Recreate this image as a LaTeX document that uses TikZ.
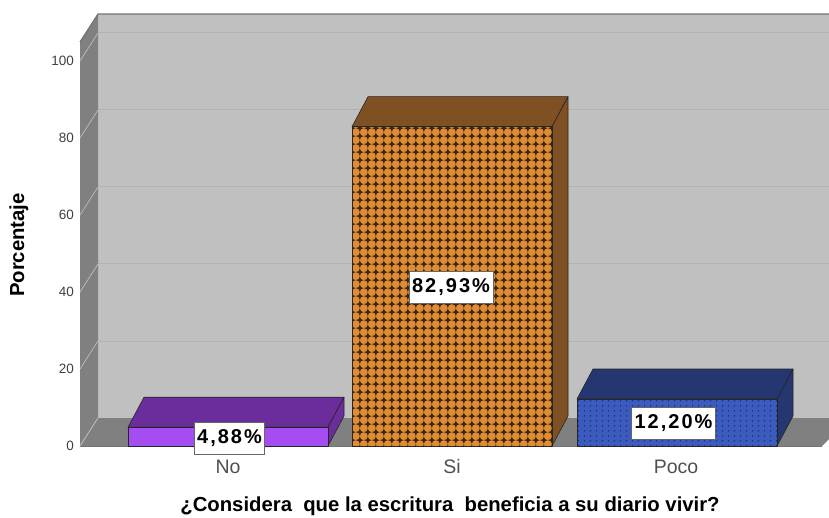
\documentclass[tikz,border=0pt]{standalone}
\usepackage{fontspec}
\setmainfont{Liberation Sans}
\newfontfamily\lblfont[LetterSpace=10]{Liberation Sans}
\usetikzlibrary{patterns}
\definecolor{wallc}{HTML}{C0C0C0}
\definecolor{sidec}{HTML}{808080}
\definecolor{gridc}{HTML}{B2B2B2}
\definecolor{sgridc}{HTML}{C4C4C4}
\definecolor{nofront}{HTML}{A64DF2}
\definecolor{nodark}{HTML}{6B2D9C}
\definecolor{sifront}{HTML}{E08C33}
\definecolor{sidark}{HTML}{7F5024}
\definecolor{sipat}{HTML}{3A2814}
\definecolor{pofront}{HTML}{3B5BBF}
\definecolor{podark}{HTML}{253670}
\definecolor{popat}{HTML}{1A2A60}
\definecolor{catc}{HTML}{505050}
\pgfdeclarepatternformonly{sparkle}{\pgfqpoint{0pt}{0pt}}{\pgfqpoint{8.3pt}{8.3pt}}{\pgfqpoint{8.3pt}{8.3pt}}{%
  \pgfpathmoveto{\pgfqpoint{4.15pt}{0pt}}%
  \pgfpathlineto{\pgfqpoint{5.3pt}{3.0pt}}%
  \pgfpathlineto{\pgfqpoint{8.3pt}{4.15pt}}%
  \pgfpathlineto{\pgfqpoint{5.3pt}{5.3pt}}%
  \pgfpathlineto{\pgfqpoint{4.15pt}{8.3pt}}%
  \pgfpathlineto{\pgfqpoint{3.0pt}{5.3pt}}%
  \pgfpathlineto{\pgfqpoint{0pt}{4.15pt}}%
  \pgfpathlineto{\pgfqpoint{3.0pt}{3.0pt}}%
  \pgfpathclose\pgfusepath{fill}}
\pgfdeclarepatternformonly{bluedots}{\pgfqpoint{0pt}{0pt}}{\pgfqpoint{6pt}{5pt}}{\pgfqpoint{6pt}{5pt}}{%
  \pgfpathcircle{\pgfqpoint{3pt}{2.5pt}}{0.85pt}\pgfusepath{fill}}
\tikzset{
  wallface/.style={fill=wallc},
  sideface/.style={fill=sidec},
  barline/.style={draw=black!85, line width=0.6pt, line join=round},
  vallabel/.style={draw=black!60, fill=white, line width=0.8pt, font=\lblfont\bfseries\fontsize{20}{20}\selectfont, inner xsep=3pt, minimum height=32pt, text=black},
  ticklabel/.style={anchor=east, font=\fontsize{13.5}{13.5}\selectfont, text=black!75, inner sep=0pt},
  catlabel/.style={font=\fontsize{19.5}{19.5}\selectfont, text=catc},
  axtitle/.style={font=\bfseries\fontsize{20.3}{20.3}\selectfont},
}
\begin{document}
\begin{tikzpicture}[x=1pt, y=-1pt]
\useasboundingbox (0,0) rectangle (829,518);
\begin{scope}
\clip (0,0) rectangle (829,518);
% back wall
\fill[wallface] (98,14) rectangle (850,418);
\foreach \v in {20,40,60,80,100}
  \draw[gridc, line width=1pt] (98,{418-3.85*\v}) -- (850,{418-3.85*\v});
% left wall
\fill[sideface] (80,42) -- (98,14) -- (98,418) -- (80,446) -- cycle;
\foreach \v in {0,20,40,60,80,100}
  \draw[sgridc, line width=0.6pt] (80,{446-3.85*\v}) -- (98,{418-3.85*\v});
% floor
\fill[sideface] (80,446) -- (98,418) -- (850,418) -- (822,446) -- cycle;
\draw[sgridc, line width=0.6pt] (80,446) -- (98,418);
\draw[black!55, line width=0.8pt] (80,446) -- (822,446);
% top edges
\draw[black!55, line width=1.2pt] (80,42) -- (98,14) -- (850,14);
\end{scope}
% bars
% No
\filldraw[barline, fill=nodark] (128,427.2) -- (144,397.2) -- (344,397.2) -- (328,427.2) -- cycle;
\filldraw[barline, fill=nodark] (328,427.2) -- (344,397.2) -- (344,416) -- (328,446) -- cycle;
\filldraw[barline, fill=nofront] (128,427.2) rectangle (328,446);
% Si
\filldraw[barline, fill=sidark] (352,126.7) -- (368,96.7) -- (568,96.7) -- (552,126.7) -- cycle;
\filldraw[barline, fill=sidark] (552,126.7) -- (568,96.7) -- (568,416) -- (552,446) -- cycle;
\fill[sifront] (352,126.7) rectangle (552,446);
\fill[pattern=sparkle, pattern color=sipat] (352,126.7) rectangle (552,446);
\draw[barline] (352,126.7) rectangle (552,446);
% Poco
\filldraw[barline, fill=podark] (577,399) -- (593,369) -- (793,369) -- (777,399) -- cycle;
\filldraw[barline, fill=podark] (777,399) -- (793,369) -- (793,416) -- (777,446) -- cycle;
\fill[pofront] (577,399) rectangle (777,446);
\fill[pattern=bluedots, pattern color=popat] (577,399) rectangle (777,446);
\draw[barline] (577,399) rectangle (777,446);
% value labels
\node[vallabel] (vno) at (229.5,438) {4,88\%};
\node[vallabel] (vsi) at (451,287) {82,93\%};
\node[vallabel] (vpo) at (673.5,423) {12,20\%};
% tick labels
\foreach \v in {0,20,40,60,80,100}
  \node[ticklabel] (t\v) at (74,{446-3.85*\v}) {\v};
% category labels
\node[catlabel] (cno) at (228,467) {No};
\node[catlabel] (csi) at (452,467) {Si};
\node[catlabel] (cpo) at (676,467) {Poco};
% axis titles
\node[axtitle] (xt) at (450,506) {¿Considera\ \ que la escritura\ \ beneficia a su diario vivir?};
\node[axtitle, rotate=90] (yt) at (19,245) {Porcentaje};
\end{tikzpicture}
\end{document}
